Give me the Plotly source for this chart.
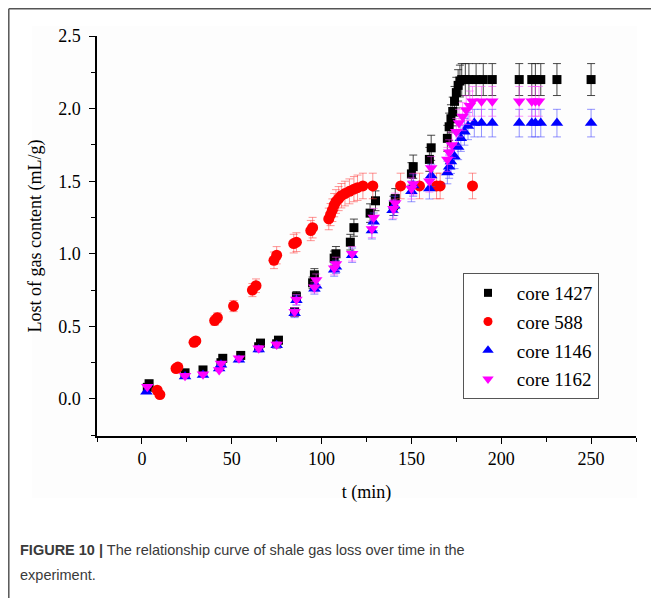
import plotly.graph_objects as go

# ---------------- data ----------------
t_1427 = [3, 4, 24, 34, 44, 45, 55, 65, 66, 75, 76, 85, 86, 95, 96, 107, 108, 116, 118, 127, 130,
          140, 141, 150, 151, 160, 161, 170, 171, 172, 173, 174, 175, 176, 177, 178, 180, 182, 186,
          190, 195, 210, 217, 219, 222, 231, 250]
y_1427 = [0.08, 0.105, 0.18, 0.20, 0.25, 0.28, 0.30, 0.36, 0.385, 0.38, 0.405, 0.60, 0.705, 0.80, 0.855,
          0.97, 1.00, 1.08, 1.18, 1.28, 1.365, 1.33, 1.38, 1.55, 1.60, 1.65, 1.73, 1.795, 1.875, 1.93,
          1.98, 2.05, 2.11, 2.16, 2.19, 2.20, 2.20, 2.20, 2.20, 2.20, 2.20, 2.20, 2.20, 2.20, 2.20, 2.20, 2.20]

t_588 = [8.5, 10, 19, 20, 29, 30, 40.5, 42, 51, 61.5, 63.5, 73.5, 75, 84.5, 86, 94, 95, 104, 105, 106,
         107, 108, 109.5, 111, 113, 115.5, 118, 120, 123, 128.5, 144, 154.5, 164, 166, 184]
y_588 = [0.06, 0.03, 0.21, 0.22, 0.39, 0.40, 0.54, 0.56, 0.64, 0.75, 0.78, 0.955, 0.99, 1.07, 1.08, 1.16,
         1.18, 1.24, 1.27, 1.30, 1.335, 1.36, 1.38, 1.40, 1.415, 1.43, 1.445, 1.455, 1.467, 1.467, 1.467,
         1.467, 1.467, 1.467, 1.467]

t_1146 = [2.5, 24, 34, 43, 44, 54, 65, 75, 85, 86, 96, 97, 107, 108, 117, 128, 129, 139.5, 140.5, 150,
          151, 160, 161, 170, 171, 172, 174, 176, 177.5, 179.5, 181.5, 185, 189, 195, 210, 217, 219,
          222, 231, 250]
y_1146 = [0.05, 0.155, 0.165, 0.21, 0.235, 0.27, 0.34, 0.37, 0.59, 0.68, 0.76, 0.78, 0.89, 0.91, 0.99,
          1.16, 1.22, 1.30, 1.33, 1.43, 1.47, 1.45, 1.54, 1.56, 1.60, 1.635, 1.67, 1.735, 1.795, 1.84,
          1.88, 1.90, 1.90, 1.90, 1.90, 1.90, 1.90, 1.90, 1.90, 1.90]

t_1162 = [3, 24, 34, 43, 44, 54, 65, 75, 85, 86, 96, 97, 107, 108, 117, 128, 129, 140, 141, 150, 151,
          160, 161, 170, 171, 172.5, 175, 176.5, 178.5, 180.5, 182.5, 184, 189, 195, 210, 217, 219, 221]
y_1162 = [0.085, 0.16, 0.17, 0.20, 0.245, 0.28, 0.35, 0.375, 0.60, 0.685, 0.77, 0.82, 0.90, 0.93, 1.00,
          1.17, 1.25, 1.31, 1.35, 1.45, 1.48, 1.50, 1.59, 1.65, 1.70, 1.75, 1.84, 1.90, 1.945, 1.99,
          2.02, 2.05, 2.05, 2.05, 2.05, 2.05, 2.05, 2.05]

series_names = ["core 1427", "core 588", "core 1146", "core 1162"]
x_ticks = [0, 50, 100, 150, 200, 250]
y_ticks = [0.0, 0.5, 1.0, 1.5, 2.0, 2.5]
x_label = "t (min)"
y_label = "Lost of gas content (mL/g)"
caption_bold = "FIGURE 10 |"
caption_line1 = " The relationship curve of shale gas loss over time in the"
caption_line2 = "experiment."

# ---------------- figure ----------------
serif = "Liberation Serif, Times New Roman, serif"
fig = go.Figure()

specs = [
    (t_1427, y_1427, series_names[0], "square", "#000000", "rgba(40,40,40,0.85)", 9, 8, 5),
    (t_588, y_588, series_names[1], "circle", "#ff0000", "rgba(255,60,60,0.55)", 11, 9, 6),
    (t_1146, y_1146, series_names[2], "triangle-up", "#0000ff", "rgba(60,60,255,0.55)", 11, 10, 5),
    (t_1162, y_1162, series_names[3], "triangle-down", "#ff00ff", "rgba(255,60,255,0.55)", 11, 10, 5),
]
for xs, ys, name, sym, col, ecol, size, lsize, pct in specs:
    fig.add_trace(go.Scatter(
        x=xs, y=ys, name=name, mode="markers", showlegend=False,
        marker=dict(symbol=sym, color=col, size=size, line=dict(width=0)),
        error_y=dict(type="percent", value=pct, color=ecol, thickness=1, width=4),
    ))
for xs, ys, name, sym, col, ecol, size, lsize, pct in specs:
    # legend entry only (no data)
    fig.add_trace(go.Scatter(
        x=[None], y=[None], name="&nbsp;" + name, mode="markers", legendgroup=name,
        marker=dict(symbol=sym, color=col, size=lsize, line=dict(width=0)),
    ))

# page body has an 8px margin: figure occupies 8..659 x 8..598 of the window
OFF = 8
W, H = 659 - OFF, 598 - OFF
L, R, T, B = 97 - OFF, 23, 36 - OFF, 162
pw, ph = W - L - R, H - T - B


def px_x(p):
    return (p - OFF - L) / pw


def px_y(p):
    return (H - B - (p - OFF)) / ph


cap_font = dict(family="Liberation Sans, Arial, sans-serif", size=14.5, color="#3a3a3a")

fig.update_layout(
    width=W, height=H,
    margin=dict(l=L, r=R, t=T, b=B, autoexpand=False),
    paper_bgcolor="white",
    plot_bgcolor="rgba(0,0,0,0)",
    font=dict(family=serif, size=18, color="black"),
    showlegend=True,
    legend=dict(
        x=px_x(463), y=px_y(273), xanchor="left", yanchor="top",
        bordercolor="#555", borderwidth=1, bgcolor="white",
        font=dict(family=serif, size=19, color="black"),
        itemsizing="trace", tracegroupgap=1, itemwidth=38,
    ),
    xaxis=dict(
        range=[-25, 275], tickvals=x_ticks, ticks="outside", ticklen=6, tickwidth=1.3,
        tickcolor="black", showline=True, linecolor="black", linewidth=1.5,
        showgrid=False, zeroline=False, mirror=False, automargin=False,
        minor=dict(dtick=25, tick0=0, ticks="outside", ticklen=4, tickwidth=1.3, tickcolor="black", showgrid=False),
        title=dict(text=x_label, font=dict(size=18), standoff=17),
        tickfont=dict(size=18),
    ),
    yaxis=dict(
        range=[-0.255, 2.5], tickvals=y_ticks, tickformat=".1f", ticks="outside", ticklen=6,
        tickwidth=1.3, tickcolor="black", showline=True, linecolor="black", linewidth=1.5,
        showgrid=False, zeroline=False, mirror=False, automargin=False, ticklabelstandoff=5,
        minor=dict(dtick=0.25, tick0=0, ticks="outside", ticklen=4, tickwidth=1.3, tickcolor="black", showgrid=False),
        title=dict(text=y_label, font=dict(size=18), standoff=12),
        tickfont=dict(size=18),
    ),
    shapes=[
        dict(type="rect", xref="paper", yref="paper", layer="below",
             x0=px_x(32), x1=px_x(637), y0=px_y(498), y1=px_y(26), line=dict(width=0), fillcolor="#fdfdfd"),
        dict(type="line", xref="paper", yref="paper", x0=px_x(8.8), x1=px_x(8.8), y0=px_y(8.8), y1=px_y(600),
             line=dict(color="#555", width=1.5)),
        dict(type="line", xref="paper", yref="paper", x0=px_x(8.8), x1=px_x(660), y0=px_y(8.8), y1=px_y(8.8),
             line=dict(color="#555", width=1.5)),
    ],
    annotations=[
        dict(xref="paper", yref="paper", x=px_x(18), y=px_y(550), xanchor="left", yanchor="middle",
             align="left", showarrow=False,
             text="<b>" + caption_bold + "</b>" + caption_line1, font=cap_font),
        dict(xref="paper", yref="paper", x=px_x(18), y=px_y(575), xanchor="left", yanchor="middle",
             align="left", showarrow=False, text=caption_line2, font=cap_font),
    ],
)

fig.write_html("out.html")
